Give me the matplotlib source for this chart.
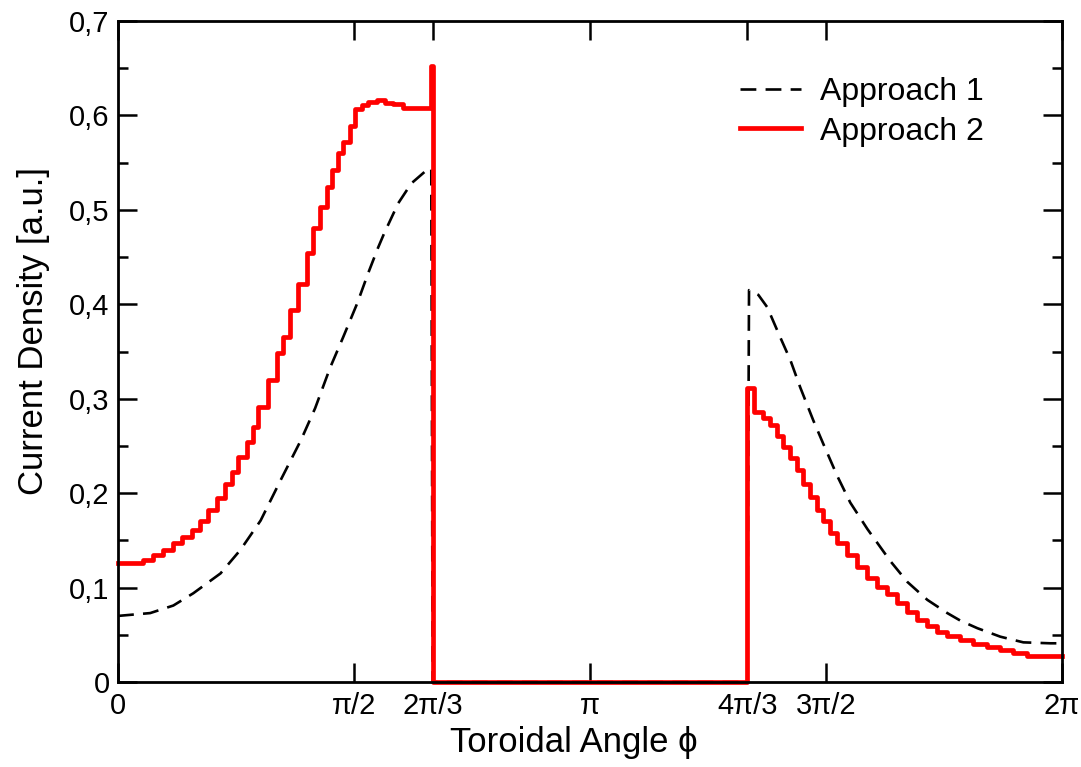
import matplotlib
matplotlib.use("Agg")
import matplotlib.pyplot as plt
import numpy as np

plt.rcParams['font.family'] = ['Liberation Sans', 'DejaVu Sans']

# Approach 1 (dashed black curve): toroidal angle and current density
phi_a1 = [0.000, 0.214, 0.368, 0.501, 0.682, 0.815, 0.949, 1.083, 1.217, 1.312,
          1.412, 1.498, 1.592, 1.665, 1.731, 1.771, 1.865, 1.952, 2.039, 2.085,
          2.094, 4.189, 4.200, 4.262, 4.321, 4.408, 4.475, 4.541, 4.628, 4.695,
          4.788, 4.874, 4.988, 5.141, 5.254, 5.387, 5.520, 5.607, 5.720, 5.873,
          6.026, 6.206, 6.283]
j_a1 = [0.070, 0.073, 0.081, 0.094, 0.115, 0.140, 0.171, 0.214, 0.256, 0.290,
        0.333, 0.365, 0.401, 0.433, 0.460, 0.475, 0.507, 0.528, 0.540, 0.544,
        0.000, 0.000, 0.415, 0.410, 0.397, 0.365, 0.341, 0.312, 0.277, 0.252,
        0.218, 0.190, 0.162, 0.128, 0.106, 0.087, 0.073, 0.065, 0.057, 0.048,
        0.042, 0.041, 0.041]

# Approach 2 (red step curve): bin edges and bin values
edges_a2 = [0.000, 0.166, 0.233, 0.300, 0.366, 0.426, 0.493, 0.546, 0.599, 0.659,
            0.713, 0.759, 0.799, 0.859, 0.899, 0.932, 0.999, 1.059, 1.099, 1.145,
            1.199, 1.259, 1.299, 1.345, 1.392, 1.425, 1.465, 1.498, 1.545, 1.578,
            1.625, 1.665, 1.725, 1.778, 1.831, 1.898, 1.964, 2.024, 2.080, 2.094,
            4.189, 4.230, 4.295, 4.342, 4.388, 4.428, 4.475, 4.521, 4.561, 4.608,
            4.655, 4.695, 4.741, 4.788, 4.854, 4.921, 4.988, 5.054, 5.121, 5.187,
            5.254, 5.321, 5.387, 5.454, 5.520, 5.607, 5.694, 5.787, 5.873, 5.960,
            6.053, 6.2832]
j_a2 = [0.126, 0.129, 0.134, 0.140, 0.147, 0.154, 0.161, 0.171, 0.182, 0.195,
        0.210, 0.222, 0.238, 0.254, 0.270, 0.291, 0.320, 0.348, 0.365, 0.394,
        0.422, 0.454, 0.481, 0.503, 0.524, 0.542, 0.560, 0.572, 0.589, 0.607,
        0.611, 0.614, 0.616, 0.613, 0.612, 0.608, 0.608, 0.608, 0.652, 0.000,
        0.311, 0.286, 0.280, 0.272, 0.261, 0.249, 0.237, 0.224, 0.210, 0.196,
        0.182, 0.171, 0.158, 0.147, 0.134, 0.122, 0.110, 0.101, 0.093, 0.084,
        0.074, 0.066, 0.059, 0.053, 0.049, 0.044, 0.040, 0.037, 0.034, 0.031,
        0.028]

xticks = [0, np.pi / 2, 2 * np.pi / 3, np.pi, 4 * np.pi / 3, 3 * np.pi / 2, 2 * np.pi]
xtick_labels = ['0', 'π/2', '2π/3', 'π', '4π/3', '3π/2', '2π']
yticks = [0, 0.1, 0.2, 0.3, 0.4, 0.5, 0.6, 0.7]
ytick_labels = ['0', '0,1', '0,2', '0,3', '0,4', '0,5', '0,6', '0,7']

fig = plt.figure(figsize=(10.81, 7.67), dpi=100)
ax = fig.add_axes([0.1092, 0.1108, 0.8732, 0.8618])

ax.plot(phi_a1, j_a1, color='black', lw=1.9, dashes=(6, 3.5), zorder=1.9,
        label='Approach 1')
ax.step(edges_a2, j_a2 + [j_a2[-1]], where='post', color='red', lw=3.4,
        clip_on=False, zorder=2, label='Approach 2')

ax.set_xlim(0, 2 * np.pi)
ax.set_ylim(0, 0.7)
ax.set_xticks(xticks)
ax.set_xticklabels(xtick_labels)
ax.set_yticks(yticks)
ax.set_yticklabels(ytick_labels)
ax.set_yticks(np.arange(0.05, 0.7, 0.1), minor=True)

ax.tick_params(which='both', direction='in', top=True, right=True, width=1.8,
               labelsize=21)
ax.tick_params(which='major', length=13.5)
ax.tick_params(which='minor', length=7.5)
ax.tick_params(axis='x', pad=7)
ax.tick_params(axis='y', pad=6)
for s in ax.spines.values():
    s.set_linewidth(2.0)

ax.set_xlabel('Toroidal Angle ϕ', fontsize=25)
ax.set_ylabel('Current Density [a.u.]', fontsize=25)
ax.xaxis.set_label_coords(0.483, -0.066)
ax.yaxis.set_label_coords(-0.072, 0.531)

ax.legend(loc='upper left', bbox_to_anchor=(740 / 1081, 1 - 77 / 767),
          bbox_transform=fig.transFigure, frameon=False, fontsize=23,
          handlelength=1.9, handletextpad=0.6, labelspacing=0.3,
          borderpad=0, borderaxespad=0)

fig.savefig('out.png', dpi=100)
